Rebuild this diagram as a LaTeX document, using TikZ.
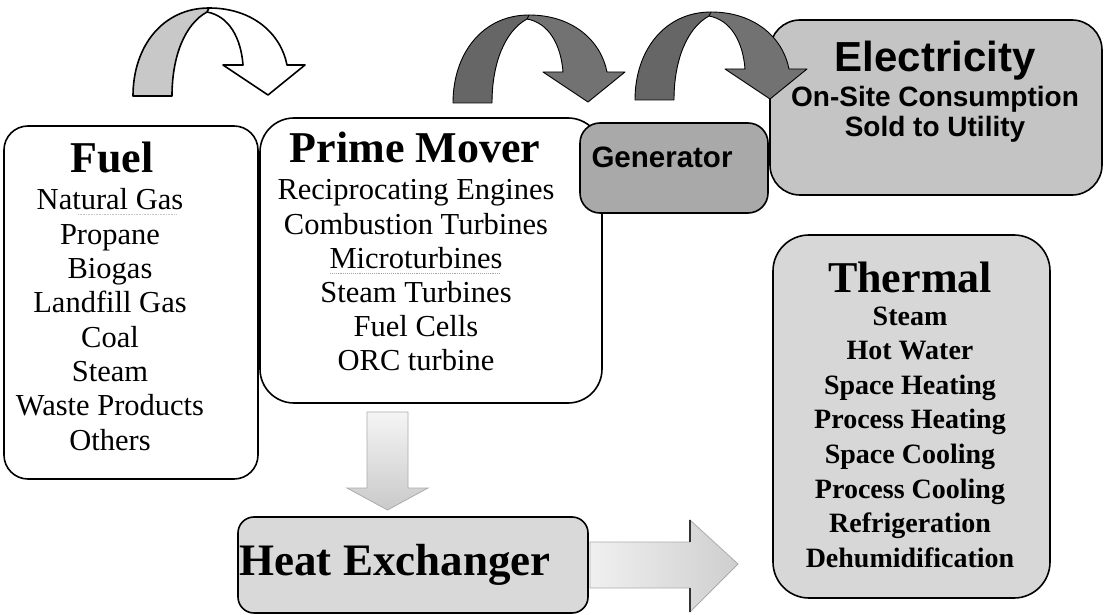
\documentclass[tikz,border=0pt]{standalone}
\usepackage{fontspec}
\setmainfont{Liberation Serif}
\newfontfamily\arialf{Liberation Sans}
\definecolor{genfill}{HTML}{A9A9A9}
\definecolor{elecfill}{HTML}{C4C4C4}
\definecolor{thermfill}{HTML}{D7D7D7}
\definecolor{hxfill}{HTML}{D9D9D9}
\definecolor{darkarrow}{HTML}{727272}
\definecolor{darkback}{HTML}{666666}
\definecolor{crescent}{HTML}{C8C8C8}
\tikzset{
  box/.style={draw=black, line width=1.6pt, inner sep=0pt, outer sep=0pt},
  ttl/.style={font=\fontsize{44}{50}\selectfont\bfseries, anchor=base, inner sep=0pt},
  itm/.style={font=\fontsize{30.5}{34}\selectfont, anchor=base, inner sep=0pt},
  titm/.style={font=\fontsize{28}{34}\selectfont\bfseries, anchor=base, inner sep=0pt},
  sfttl/.style={font=\arialf\fontsize{42}{48}\selectfont\bfseries, anchor=base, inner sep=0pt},
  sfitm/.style={font=\arialf\fontsize{28}{32}\selectfont\bfseries, anchor=base, inner sep=0pt},
}
% curved down arrow, origin = bottom of the outer left leg
\newcommand{\cdarrow}[4]{% #1 back fill, #2 front fill, #3 line colour, #4 line width
  \fill[#2] (0,0) .. controls (0,-50) and (30,-88) .. (76,-88)
     .. controls (120,-88) and (148,-62) .. (154,-31) -- (172,-31) -- (135,-1)
     -- (90,-31) -- (110,-31) .. controls (108,-58) and (96,-80) .. (74,-84)
     .. controls (52,-72) and (39,-40) .. (39,0) -- cycle;
  \filldraw[fill=#1, draw=#3, line width=#4, line join=round]
     (0,0) .. controls (0,-50) and (30,-88) .. (76,-88) -- (74,-84)
     .. controls (52,-72) and (39,-40) .. (39,0) -- cycle;
  \draw[#3, line width=#4, line join=round]
     (76,-88) .. controls (120,-88) and (148,-62) .. (154,-31) -- (172,-31) -- (135,-1)
     -- (90,-31) -- (110,-31) .. controls (108,-58) and (96,-80) .. (74,-84);
}
\begin{document}
\begin{tikzpicture}[x=1pt,y=-1pt]
\useasboundingbox (0,0) rectangle (1104,615);
\fill[white] (0,0) rectangle (1104,615);

% boxes
\node[box, fill=white, rounded corners=24pt, minimum width=254pt, minimum height=353pt] (fuel) at (131,302.5) {};
\node[box, fill=white, rounded corners=34pt, minimum width=342pt, minimum height=285pt] (pm) at (431,260.5) {};
\node[box, fill=elecfill, rounded corners=30pt, minimum width=332pt, minimum height=175pt] (elec) at (936,107.5) {};
\node[box, fill=genfill, rounded corners=20pt, minimum width=188pt, minimum height=90pt] (gen) at (674,168) {};
\node[box, fill=thermfill, rounded corners=36pt, minimum width=277pt, minimum height=363pt] (therm) at (911.5,416.5) {};
\node[box, fill=hxfill, rounded corners=16pt, minimum width=350pt, minimum height=96pt] (hx) at (413,565) {};

% curved arrows
\begin{scope}[shift={(133,96)}]
  \cdarrow{crescent}{white}{black}{1.6pt}
\end{scope}
\begin{scope}[shift={(453,103)}]
  \cdarrow{darkback}{darkarrow}{black}{0.9pt}
\end{scope}
\begin{scope}[shift={(635,100)}]
  \cdarrow{darkback}{darkarrow}{black}{0.9pt}
\end{scope}

% block arrows
\path[top color=gray!8, bottom color=gray!42, draw=gray!65, line width=0.8pt]
  (367,412) -- (408,412) -- (408,488) -- (428,488) -- (387.5,510) -- (347,488) -- (367,488) -- cycle;
\path[left color=gray!12, right color=gray!38, draw=gray!65, line width=0.8pt]
  (590,542) -- (690,542) -- (690,520) -- (738,564) -- (690,612) -- (690,588) -- (590,588) -- cycle;
\draw[black!80, line width=1.2pt] (690,520) -- (690,542) (690,588) -- (690,612);

% Fuel text
\node[ttl] (fuelT) at (112,173) {Fuel};
\foreach \t [count=\i from 0] in {Natural Gas,Propane,Biogas,Landfill Gas,Coal,Steam,Waste Products,Others}
  \node[itm] (fuel\i) at (110,{210+34.3*\i}) {\t};
\draw[gray!45, densely dotted, line width=0.6pt] (78,214) -- (176,214);

% Prime mover text
\node[ttl] (pmT) at (415,163) {Prime Mover};
\foreach \t [count=\i from 0] in {Reciprocating Engines,Combustion Turbines,Microturbines,Steam Turbines,Fuel Cells,ORC turbine}
  \node[itm] (pm\i) at (416,{200+34*\i}) {\t};
\draw[gray!70, densely dotted, line width=0.9pt] (330,273) -- (500,273);

% Generator and electricity text
\node[sfitm, font=\arialf\fontsize{29.5}{33}\selectfont\bfseries] (genT) at (662,168) {Generator};
\node[sfttl] (elecT) at (935,72) {Electricity};
\node[sfitm] (elec1) at (935,107) {On-Site Consumption};
\node[sfitm] (elec2) at (935,137) {Sold to Utility};

% Thermal text
\node[ttl] (thermT) at (910,292) {Thermal};
\foreach \t [count=\i from 0] in {Steam,Hot Water,Space Heating,Process Heating,Space Cooling,Process Cooling,Refrigeration,Dehumidification}
  \node[titm] (therm\i) at (910,{325+34.6*\i}) {\t};

% Heat exchanger text
\node[ttl, font=\fontsize{45}{50}\selectfont\bfseries] (hxT) at (395,575) {Heat Exchanger};
\end{tikzpicture}
\end{document}
